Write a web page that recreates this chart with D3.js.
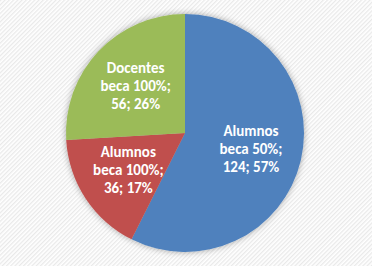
<!DOCTYPE html>
<html>
<head>
<meta charset="utf-8">
<script src="https://cdn.jsdelivr.net/npm/d3@7"></script>
<style>
  body { margin: 0; background: #fff; }
  svg { display: block; }
</style>
</head>
<body>
<div id="chart"></div>
<script>
// Pie data
const categories = ["Alumnos beca 50%", "Alumnos beca 100%", "Docentes beca 100%"];
const labelLines = [["Alumnos", "beca 50%;"], ["Alumnos", "beca 100%;"], ["Docentes", "beca 100%;"]];
const values = [124, 36, 56];
const percents = ["57%", "17%", "26%"];
const colors = ["#4F81BD", "#C0504D", "#9BBB59"];

const width = 372, height = 266;
const cx = 185, cy = 133, radius = 119;

const svg = d3.select("#chart")
    .append("svg")
    .attr("width", width)
    .attr("height", height);

const defs = svg.append("defs");

// diagonal stripe background
const pat = defs.append("pattern")
    .attr("id", "stripes")
    .attr("patternUnits", "userSpaceOnUse")
    .attr("width", 3)
    .attr("height", 3)
    .attr("patternTransform", "rotate(45)");
pat.append("rect").attr("width", 3).attr("height", 3).attr("fill", "#ffffff");
pat.append("rect").attr("width", 1.3).attr("height", 3).attr("fill", "#e9e9e9");

const shadow = defs.append("filter")
    .attr("id", "shadow")
    .attr("x", "-20%").attr("y", "-20%")
    .attr("width", "140%").attr("height", "140%");
shadow.append("feDropShadow")
    .attr("dx", 0).attr("dy", 0)
    .attr("stdDeviation", 3)
    .attr("flood-color", "#000")
    .attr("flood-opacity", 0.35);

svg.append("rect")
    .attr("width", width)
    .attr("height", height)
    .attr("fill", "url(#stripes)");

const rows = categories.map((c, i) => ({ name: c, value: values[i], lines: labelLines[i], pct: percents[i], color: colors[i] }));

const pie = d3.pie()
    .value(d => d.value)
    .sort(null);

const arcs = pie(rows);

const arc = d3.arc().innerRadius(0).outerRadius(radius);
const labelArc = d3.arc().innerRadius(radius * 0.57).outerRadius(radius * 0.57);

const g = svg.append("g")
    .attr("transform", `translate(${cx}, ${cy})`);

g.append("g")
    .attr("filter", "url(#shadow)")
    .selectAll("path")
    .data(arcs)
    .enter()
    .append("path")
    .attr("d", arc)
    .attr("fill", d => d.data.color);

const lineH = 18;
const labels = g.selectAll(".label")
    .data(arcs)
    .enter()
    .append("text")
    .attr("class", "label")
    .attr("transform", d => `translate(${labelArc.centroid(d)})`)
    .attr("text-anchor", "middle")
    .style("font-family", "Carlito, Lato, 'Open Sans', sans-serif")
    .style("font-size", "15px")
    .style("font-weight", "bold")
    .style("fill", "#fff");

labels.each(function(d) {
    const t = d3.select(this);
    const all = d.data.lines.concat([`${d.data.value}; ${d.data.pct}`]);
    all.forEach((s, i) => {
        t.append("tspan")
            .attr("x", 0)
            .attr("y", (i - 1) * lineH + 5)
            .text(s);
    });
});
</script>
</body>
</html>
